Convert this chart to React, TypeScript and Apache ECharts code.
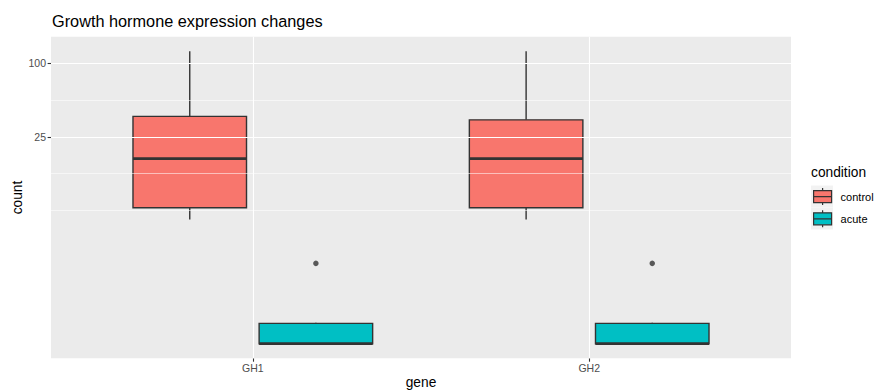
import React, { useEffect, useRef } from 'react';
import * as echarts from 'echarts';

const genes = ['GH1', 'GH2'];
const conditions = ['control', 'acute'];
const conditionColors = ['#F8766D', '#00BFC4'];
// box stats per gene: [lower whisker, Q1, median, Q3, upper whisker]
const controlStats = [
  [5.3, 6.6, 16.6, 36.7, 124.6],
  [5.3, 6.6, 16.6, 34.4, 124.6],
];
const acuteStats = [
  [0.513, 0.513, 0.513, 0.751, 0.76],
  [0.513, 0.513, 0.513, 0.751, 0.76],
];
const acuteOutliers = [2.32, 2.32];
const yMajorBreaks = [25, 100];
const yMinorBreaks = [6.25, 12.5, 50];

const FONT = '"Liberation Sans", Arial, Helvetica, sans-serif';
const DODGE = 0.1875;
const HALF_W = 0.16875;

export default function App() {
  const ref = useRef<HTMLDivElement>(null);
  useEffect(() => {
    document.body.style.margin = '0';
    if (!ref.current) return;
    const chart = echarts.init(ref.current, undefined, { renderer: 'svg' });

    const allVals = [...controlStats.flat(), ...acuteStats.flat(), ...acuteOutliers];
    const lo = Math.log10(Math.min(...allVals));
    const hi = Math.log10(Math.max(...allVals));
    const span = hi - lo;
    const yMin = Math.pow(10, lo - 0.05 * span);
    const yMax = Math.pow(10, hi + 0.05 * span);

    const statsBy = [controlStats, acuteStats];
    const offsets = [-DODGE, DODGE];

    const boxSeries = conditions.map((name, ci) => ({
      type: 'custom',
      name,
      z: 3,
      itemStyle: { color: conditionColors[ci], borderColor: '#333333', borderWidth: 1.4 },
      encode: { x: 0, y: [1, 2, 3, 4, 5] },
      data: statsBy[ci].map((s, gi) => [gi + 1 + offsets[ci], ...s]),
      renderItem: (params: any, api: any) => {
        const x = api.value(0);
        const vlo = api.value(1), q1 = api.value(2), med = api.value(3), q3 = api.value(4), vhi = api.value(5);
        const tl = api.coord([x - HALF_W, q3]);
        const br = api.coord([x + HALF_W, q1]);
        const ml = api.coord([x - HALF_W, med]);
        const mr = api.coord([x + HALF_W, med]);
        const pLo = api.coord([x, vlo]);
        const pQ1 = api.coord([x, q1]);
        const pQ3 = api.coord([x, q3]);
        const pHi = api.coord([x, vhi]);
        const ls = { stroke: '#333333', lineWidth: 1.4 };
        return {
          type: 'group',
          children: [
            { type: 'line', shape: { x1: pHi[0], y1: pHi[1], x2: pQ3[0], y2: pQ3[1] }, style: ls },
            { type: 'line', shape: { x1: pLo[0], y1: pLo[1], x2: pQ1[0], y2: pQ1[1] }, style: ls },
            {
              type: 'rect',
              shape: { x: tl[0], y: tl[1], width: br[0] - tl[0], height: br[1] - tl[1] },
              style: { fill: conditionColors[ci], stroke: '#333333', lineWidth: 1.4 },
            },
            { type: 'line', shape: { x1: ml[0], y1: ml[1], x2: mr[0], y2: mr[1] }, style: { stroke: '#333333', lineWidth: 2.7 } },
          ],
        };
      },
    }));

    const gridLine = (width: number) => ({
      silent: true,
      symbol: 'none',
      label: { show: false },
      emphasis: { disabled: true },
      lineStyle: { color: '#FFFFFF', width, type: 'solid' },
      animation: false,
    });

    const option: any = {
      animation: false,
      title: {
        text: 'Growth hormone expression changes',
        left: 52,
        top: 13,
        padding: 0,
        textStyle: { fontSize: 16.3, fontWeight: 'normal', color: '#000000', fontFamily: FONT },
      },
      grid: {
        left: 51,
        right: 84,
        top: 36.7,
        bottom: 33.7,
        outerBoundsMode: 'none',
        containLabel: false,
        show: true,
        backgroundColor: '#EBEBEB',
        borderWidth: 0,
      },
      xAxis: {
        type: 'value',
        min: 0.4,
        max: 2.6,
        name: 'gene',
        nameLocation: 'middle',
        nameGap: 17,
        nameMoveOverlap: false,
        nameTextStyle: { fontSize: 13.75, color: '#000000', fontFamily: FONT },
        axisLine: { show: false },
        splitLine: { show: false },
        axisTick: { show: true, customValues: [1, 2], length: 3.4, lineStyle: { color: '#333333', width: 1.1 } },
        axisLabel: {
          customValues: [1, 2],
          formatter: (v: number) => genes[Math.round(v) - 1] ?? '',
          margin: 4,
          fontSize: 10.5,
          color: '#4D4D4D',
          fontFamily: FONT,
        },
      },
      yAxis: {
        type: 'log',
        logBase: 10,
        min: yMin,
        max: yMax,
        name: 'count',
        nameLocation: 'middle',
        nameGap: 27,
        nameMoveOverlap: false,
        nameTextStyle: { fontSize: 13.75, color: '#000000', fontFamily: FONT },
        axisLine: { show: false },
        splitLine: { show: false },
        minorSplitLine: { show: false },
        axisTick: { show: true, customValues: yMajorBreaks, length: 3.4, lineStyle: { color: '#333333', width: 1.1 } },
        axisLabel: {
          customValues: yMajorBreaks,
          formatter: (v: number) => String(Math.round(v)),
          margin: 5,
          fontSize: 10.5,
          color: '#4D4D4D',
          fontFamily: FONT,
        },
      },
      legend: {
        orient: 'vertical',
        left: 813,
        top: 187.5,
        padding: 0,
        itemWidth: 18,
        itemHeight: 18,
        itemGap: 4,
        selectedMode: false,
        icon: 'path://M0,3 L18,3 L18,15 L0,15 Z M0,9 L18,9 M9,0.5 L9,3 M9,15 L9,17.5',
        textStyle: { fontSize: 11, color: '#000000', fontFamily: FONT, padding: [0, 0, 0, 4], overflow: 'none' },
        data: conditions.map((c, i) => ({
          name: c,
          itemStyle: { color: conditionColors[i], borderColor: '#333333', borderWidth: 1.2 },
        })),
      },
      graphic: [
        { type: 'rect', left: 811, top: 185.5, shape: { width: 22, height: 22 }, style: { fill: '#F2F2F2' }, z: 0 },
        { type: 'rect', left: 811, top: 207.5, shape: { width: 22, height: 22 }, style: { fill: '#F2F2F2' }, z: 0 },
        {
          type: 'text',
          left: 811,
          top: 165,
          style: { text: 'condition', fontSize: 13.75, fill: '#000000', fontFamily: FONT },
        },
      ],
      series: [
        {
          type: 'line',
          name: 'minorGrid',
          z: 1,
          data: [],
          markLine: { ...gridLine(0.55), data: yMinorBreaks.map((v) => ({ yAxis: v })) },
        },
        {
          type: 'line',
          name: 'majorGrid',
          z: 1,
          data: [],
          markLine: {
            ...gridLine(1.1),
            data: [...yMajorBreaks.map((v) => ({ yAxis: v })), ...genes.map((_, i) => ({ xAxis: i + 1 }))],
          },
        },
        ...boxSeries,
        {
          type: 'scatter',
          name: 'outliers',
          z: 4,
          symbolSize: 5.5,
          itemStyle: { color: '#333333' },
          data: acuteOutliers.map((v, gi) => [gi + 1 + DODGE, v]),
        },
      ],
    };
    chart.setOption(option);
    return () => chart.dispose();
  }, []);
  return <div ref={ref} style={{ width: 875, height: 392 }} />;
}
